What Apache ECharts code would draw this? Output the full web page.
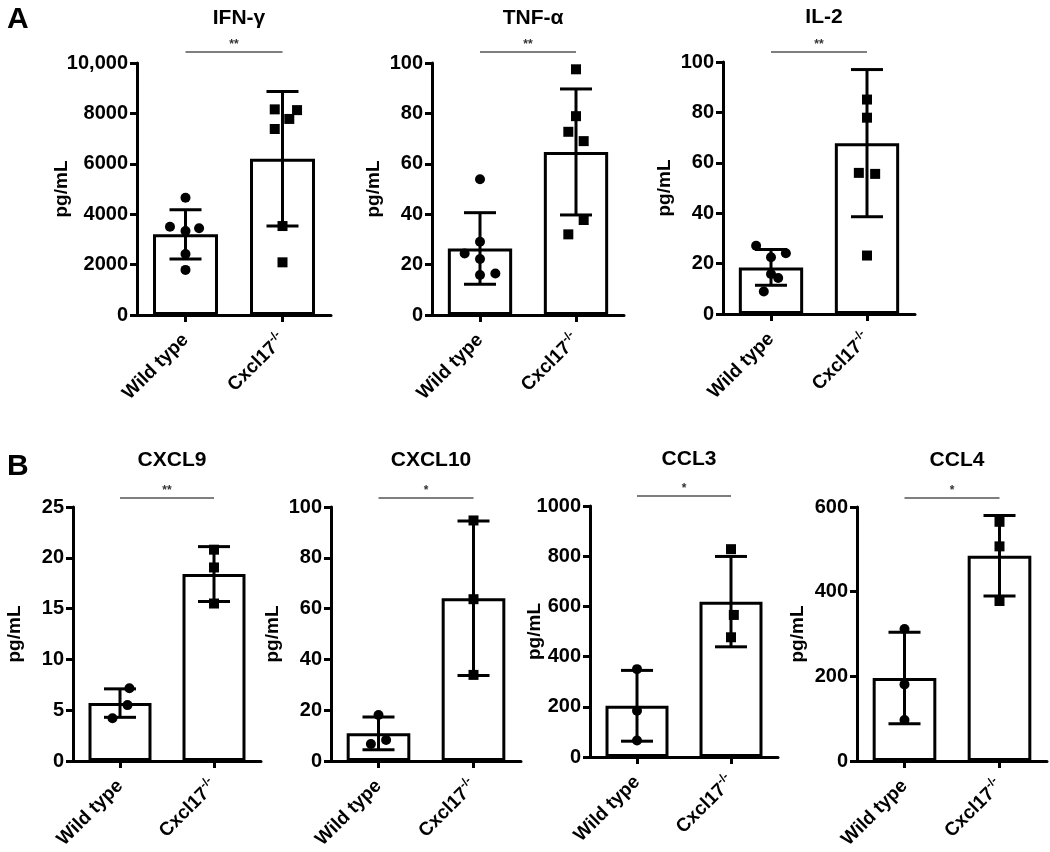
<!DOCTYPE html>
<html><head><meta charset="utf-8">
<script src="https://cdn.jsdelivr.net/npm/echarts@6/dist/echarts.min.js"></script>
<style>html,body{margin:0;padding:0;background:#fff}#c{width:1050px;height:852px}</style>
</head><body><div id="c"></div>
<script>
// ---------- DATA ----------
const categories = ['Wild type', 'Cxcl17^-/-'];

// Panel A
const ifnMean = [3200, 6200];
const ifnSD = [980, 2670];
const ifnWT = [4650, 3500, 3330, 3440, 2420, 1790];
const ifnWTJitter = [0, -0.16, 0, 0.14, 0, 0];
const ifnKO = [8160, 8130, 7780, 7380, 3530, 2090];
const ifnKOJitter = [-0.08, 0.15, 0.07, -0.08, 0, 0];
const ifnTicks = [0, 10000, 2000];

const tnfMean = [26.4, 64.7];
const tnfSD = [14.2, 25.0];
const tnfWT = [53.9, 29.1, 24.4, 22.2, 15.9, 16.5];
const tnfWTJitter = [0, 0, -0.16, 0, 0, 0.16];
const tnfKO = [97.5, 78.9, 72.7, 69.0, 37.7, 32.0];
const tnfKOJitter = [0, 0, -0.08, 0.08, 0.08, -0.08];
const tnfTicks = [0, 100, 20];

const il2Mean = [18.5, 67.8];
const il2SD = [7.1, 29.2];
const il2WT = [27.1, 24.1, 22.5, 15.9, 14.3, 8.9];
const il2WTJitter = [-0.155, 0.155, 0, 0, 0.075, -0.075];
const il2KO = [85.1, 77.9, 56.0, 55.6, 23.2];
const il2KOJitter = [0, 0, -0.085, 0.085, 0];
const il2Ticks = [0, 100, 20];

// Panel B
const cxcl9Mean = [5.7, 18.4];
const cxcl9SD = [1.4, 2.7];
const cxcl9WT = [7.16, 5.5, 4.2];
const cxcl9WTJitter = [0.1, 0.08, -0.08];
const cxcl9KO = [20.8, 19.05, 15.5];
const cxcl9KOJitter = [0, 0, 0];
const cxcl9Ticks = [0, 25, 5];

const cxcl10Mean = [10.9, 64.1];
const cxcl10SD = [6.45, 30.4];
const cxcl10WT = [18.1, 8.3, 6.7];
const cxcl10WTJitter = [0, 0.08, -0.08];
const cxcl10KO = [94.7, 63.7, 33.9];
const cxcl10KOJitter = [0, 0, 0];
const cxcl10Ticks = [0, 100, 20];

const ccl3Mean = [204, 619];
const ccl3SD = [141, 180];
const ccl3WT = [350, 184, 66];
const ccl3WTJitter = [0, 0, 0];
const ccl3KO = [828, 566, 477];
const ccl3KOJitter = [0, 0.03, 0];
const ccl3Ticks = [0, 1000, 200];

const ccl4Mean = [196, 485];
const ccl4SD = [108, 95];
const ccl4WT = [312, 181, 97];
const ccl4WTJitter = [0, 0, 0];
const ccl4KO = [565, 507, 378];
const ccl4KOJitter = [0, 0, 0];
const ccl4Ticks = [0, 600, 200];

const titles = ['IFN-γ', 'TNF-α', 'IL-2', 'CXCL9', 'CXCL10', 'CCL3', 'CCL4'];
const sigLabels = ['**', '**', '**', '**', '*', '*', '*'];
const yName = 'pg/mL';

const panels = [
  [ifnMean, ifnSD, ifnWT, ifnWTJitter, ifnKO, ifnKOJitter, ifnTicks],
  [tnfMean, tnfSD, tnfWT, tnfWTJitter, tnfKO, tnfKOJitter, tnfTicks],
  [il2Mean, il2SD, il2WT, il2WTJitter, il2KO, il2KOJitter, il2Ticks],
  [cxcl9Mean, cxcl9SD, cxcl9WT, cxcl9WTJitter, cxcl9KO, cxcl9KOJitter, cxcl9Ticks],
  [cxcl10Mean, cxcl10SD, cxcl10WT, cxcl10WTJitter, cxcl10KO, cxcl10KOJitter, cxcl10Ticks],
  [ccl3Mean, ccl3SD, ccl3WT, ccl3WTJitter, ccl3KO, ccl3KOJitter, ccl3Ticks],
  [ccl4Mean, ccl4SD, ccl4WT, ccl4WTJitter, ccl4KO, ccl4KOJitter, ccl4Ticks]
];

// ---------- LAYOUT / STYLE ----------
const layout = [
  {left: 137, top: 63, width: 194, height: 252, nameGap: 66, sigGap: 11},
  {left: 432, top: 63, width: 192, height: 252, nameGap: 49, sigGap: 11},
  {left: 723, top: 62, width: 192, height: 252, nameGap: 49, sigGap: 10},
  {left: 73, top: 507, width: 188, height: 254, nameGap: 49, sigGap: 9},
  {left: 331, top: 507, width: 190, height: 254, nameGap: 49, sigGap: 9},
  {left: 590, top: 506, width: 188, height: 251, nameGap: 46, sigGap: 10},
  {left: 857, top: 507, width: 190, height: 254, nameGap: 50, sigGap: 9}
];
const FONT = "'Liberation Sans', Arial, Helvetica, sans-serif";

function errRender(params, api) {
  const x = api.value(0), m = api.value(1), s = api.value(2);
  const top = api.coord([x, m + s]), bot = api.coord([x, m - s]);
  const half = 16;
  const st = {stroke: '#000', lineWidth: 3};
  return {type: 'group', children: [
    {type: 'line', shape: {x1: top[0], y1: top[1], x2: bot[0], y2: bot[1]}, style: st},
    {type: 'line', shape: {x1: top[0] - half, y1: top[1], x2: top[0] + half, y2: top[1]}, style: st},
    {type: 'line', shape: {x1: bot[0] - half, y1: bot[1], x2: bot[0] + half, y2: bot[1]}, style: st}
  ]};
}
function sigRender(label, yMax, gap) {
  return function (params, api) {
    const a = api.coord([0, yMax]), b = api.coord([1, yMax]);
    const y = a[1] - gap;
    return {type: 'group', children: [
      {type: 'line', shape: {x1: a[0], y1: y, x2: b[0], y2: y}, style: {stroke: '#555', lineWidth: 1.5}},
      {type: 'text', style: {text: label, x: (a[0] + b[0]) / 2, y: y - 1, align: 'center', verticalAlign: 'bottom',
        fill: '#333', fontSize: 12, fontWeight: 'bold', fontFamily: FONT}}
    ]};
  };
}

const option = {
  backgroundColor: '#fff',
  animation: false,
  textStyle: {fontFamily: FONT},
  title: [],
  grid: [], xAxis: [], yAxis: [], series: []
};
option.title.push({text: 'A', left: 2, top: 0, textStyle: {fontSize: 30, fontWeight: 'bold', color: '#000', fontFamily: FONT}});
option.title.push({text: 'B', left: 2, top: 447, textStyle: {fontSize: 30, fontWeight: 'bold', color: '#000', fontFamily: FONT}});

panels.forEach((p, i) => {
  const [mean, sd, wt, wtJ, ko, koJ, ticks] = p;
  const L = layout[i];
  option.grid.push({left: L.left, top: L.top, width: L.width, height: L.height, containLabel: false});
  option.title.push({text: titles[i], left: L.left + L.width / 2, top: L.top - (i < 3 ? 60 : 62), textAlign: 'center',
    textStyle: {fontSize: 21, fontWeight: 'bold', color: '#000', fontFamily: FONT}});
  option.xAxis.push({
    type: 'category', gridIndex: i, data: categories,
    axisLine: {show: true, onZero: false, lineStyle: {color: '#000', width: 3}},
    axisTick: {show: true, alignWithLabel: true, length: 7, lineStyle: {color: '#000', width: 3}},
    axisLabel: {
      rotate: 45, margin: 22, color: '#000', interval: 0,
      formatter: v => { const s = v.split('^'); return s.length > 1 ? `{b|${s[0]}}{s|${s[1]}}` : `{b|${v}}`; },
      rich: {
        b: {fontSize: 19, fontWeight: 'bold', color: '#000', fontFamily: FONT},
        s: {fontSize: 12, fontWeight: 'bold', color: '#000', fontFamily: FONT, padding: [0, 0, 12, 0]}
      }
    },
    splitLine: {show: false}
  });
  option.xAxis.push({type: 'value', gridIndex: i, min: -0.5, max: 1.5, show: false});
  option.yAxis.push({
    type: 'value', gridIndex: i, min: ticks[0], max: ticks[1], interval: ticks[2],
    name: yName, nameLocation: 'middle', nameGap: L.nameGap, nameRotate: 90, nameMoveOverlap: false,
    nameTextStyle: {fontSize: 19, fontWeight: 'bold', color: '#000', fontFamily: FONT},
    axisLine: {show: true, onZero: false, lineStyle: {color: '#000', width: 3}},
    axisTick: {show: true, length: 7, lineStyle: {color: '#000', width: 3}},
    axisLabel: {fontSize: 20, fontWeight: 'bold', color: '#000', margin: 9,
      formatter: v => v >= 10000 ? v.toLocaleString('en-US') : String(v)},
    splitLine: {show: false}
  });
  option.series.push({
    type: 'bar', xAxisIndex: 2 * i, yAxisIndex: i, data: mean, barWidth: '67%',
    itemStyle: {color: '#fff', borderColor: '#000', borderWidth: 3}, z: 2, silent: true
  });
  option.series.push({
    type: 'scatter', xAxisIndex: 2 * i + 1, yAxisIndex: i, symbol: 'circle', symbolSize: 10,
    data: wt.map((v, j) => [0 + wtJ[j], v]), itemStyle: {color: '#000', opacity: 1}, z: 3, silent: true
  });
  option.series.push({
    type: 'scatter', xAxisIndex: 2 * i + 1, yAxisIndex: i, symbol: 'rect', symbolSize: 10,
    data: ko.map((v, j) => [1 + koJ[j], v]), itemStyle: {color: '#000', opacity: 1}, z: 3, silent: true
  });
  option.series.push({
    type: 'custom', xAxisIndex: 2 * i, yAxisIndex: i, renderItem: errRender,
    data: mean.map((m, k) => [k, m, sd[k]]), encode: {x: 0, y: 1}, z: 4, silent: true
  });
  option.series.push({
    type: 'custom', xAxisIndex: 2 * i, yAxisIndex: i, renderItem: sigRender(sigLabels[i], ticks[1], L.sigGap),
    data: [[0, ticks[1]]], encode: {x: 0, y: 1}, clip: false, z: 4, silent: true
  });
});

const chart = echarts.init(document.getElementById('c'), null, {renderer: 'canvas'});
chart.setOption(option);
</script>
</body></html>
